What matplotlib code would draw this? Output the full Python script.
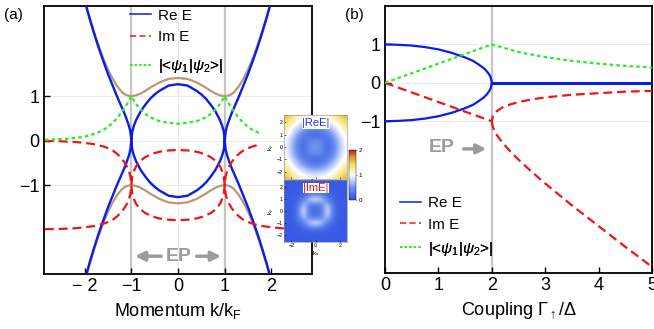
import numpy as np
import matplotlib
matplotlib.use('Agg')
import matplotlib.pyplot as plt
from matplotlib.colors import LinearSegmentedColormap

plt.rcParams['font.family'] = ['Liberation Sans', 'DejaVu Sans']
plt.rcParams['mathtext.fontset'] = 'custom'
plt.rcParams['mathtext.rm'] = 'Liberation Sans'
plt.rcParams['mathtext.it'] = 'Liberation Sans:italic'

# ---- panel (a): energies vs momentum ----
k_a = [-2.0, -1.9, -1.8, -1.7, -1.6, -1.5, -1.4, -1.3, -1.2, -1.15, -1.1, -1.05, -1.02, -1.0,
       -0.98, -0.95, -0.9, -0.85, -0.8, -0.7, -0.6, -0.5, -0.4, -0.2, 0.0,
       0.2, 0.4, 0.5, 0.6, 0.7, 0.8, 0.85, 0.9, 0.95, 0.98, 1.0,
       1.02, 1.05, 1.1, 1.15, 1.2, 1.3, 1.4, 1.5, 1.6, 1.7, 1.8, 1.9, 2.0]
re_up = [3.15, 2.77, 2.42, 2.09, 1.79, 1.50, 1.24, 0.98, 0.74, 0.62, 0.48, 0.33, 0.20, 0.00,
         0.20, 0.32, 0.46, 0.56, 0.66, 0.81, 0.94, 1.04, 1.12, 1.24, 1.27,
         1.24, 1.12, 1.04, 0.94, 0.81, 0.66, 0.56, 0.46, 0.32, 0.20, 0.00,
         0.20, 0.33, 0.48, 0.62, 0.74, 0.98, 1.24, 1.50, 1.79, 2.09, 2.42, 2.77, 3.15]
re_lo = [-3.15, -2.77, -2.42, -2.09, -1.79, -1.50, -1.24, -0.98, -0.74, -0.62, -0.48, -0.33, -0.20, 0.00,
         -0.20, -0.32, -0.46, -0.56, -0.66, -0.81, -0.94, -1.04, -1.12, -1.24, -1.27,
         -1.24, -1.12, -1.04, -0.94, -0.81, -0.66, -0.56, -0.46, -0.32, -0.20, 0.00,
         -0.20, -0.33, -0.48, -0.62, -0.74, -0.98, -1.24, -1.50, -1.79, -2.09, -2.42, -2.77, -3.15]
herm_up = [3.16, 2.80, 2.45, 2.14, 1.85, 1.60, 1.39, 1.22, 1.09, 1.05, 1.02, 1.01, 1.00, 1.00,
           1.00, 1.01, 1.02, 1.04, 1.06, 1.12, 1.19, 1.25, 1.31, 1.39, 1.41,
           1.39, 1.31, 1.25, 1.19, 1.12, 1.06, 1.04, 1.02, 1.01, 1.00, 1.00,
           1.00, 1.01, 1.02, 1.05, 1.09, 1.22, 1.39, 1.60, 1.85, 2.14, 2.45, 2.80, 3.16]
herm_lo = [-3.16, -2.80, -2.45, -2.14, -1.85, -1.60, -1.39, -1.22, -1.09, -1.05, -1.02, -1.01, -1.00, -1.00,
           -1.00, -1.01, -1.02, -1.04, -1.06, -1.12, -1.19, -1.25, -1.31, -1.39, -1.41,
           -1.39, -1.31, -1.25, -1.19, -1.12, -1.06, -1.04, -1.02, -1.01, -1.00, -1.00,
           -1.00, -1.01, -1.02, -1.05, -1.09, -1.22, -1.39, -1.60, -1.85, -2.14, -2.45, -2.80, -3.16]

k_im_up = [-2.85, -2.6, -2.4, -2.2, -2.0, -1.8, -1.6, -1.5, -1.4, -1.3, -1.2, -1.15, -1.1, -1.05, -1.02, -1.0,
           -0.98, -0.95, -0.9, -0.85, -0.8, -0.7, -0.6, -0.5, -0.4, -0.2, 0.0,
           0.2, 0.4, 0.5, 0.6, 0.7, 0.8, 0.85, 0.9, 0.95, 0.98, 1.0,
           1.02, 1.05, 1.1, 1.15, 1.2, 1.3, 1.4, 1.5, 1.6, 1.7]
im_up = [-0.01, -0.01, -0.02, -0.03, -0.05, -0.08, -0.13, -0.17, -0.22, -0.30, -0.41, -0.48, -0.57, -0.69, -0.80, -1.00,
         -0.80, -0.70, -0.58, -0.51, -0.45, -0.37, -0.32, -0.28, -0.25, -0.22, -0.21,
         -0.22, -0.25, -0.28, -0.32, -0.37, -0.45, -0.51, -0.58, -0.70, -0.80, -1.00,
         -0.80, -0.69, -0.57, -0.48, -0.41, -0.30, -0.22, -0.17, -0.13, -0.10]
k_im_lo = [-2.85, -2.6, -2.4, -2.2, -2.0, -1.8, -1.6, -1.5, -1.4, -1.3, -1.2, -1.15, -1.1, -1.05, -1.02, -1.0,
           -0.98, -0.95, -0.9, -0.85, -0.8, -0.7, -0.6, -0.5, -0.4, -0.2, 0.0,
           0.2, 0.4, 0.5, 0.6, 0.7, 0.8, 0.85, 0.9, 0.95, 0.98, 1.0,
           1.02, 1.05, 1.1, 1.15, 1.2, 1.3, 1.4, 1.5, 1.6, 1.7, 1.8, 2.0, 2.2, 2.4, 2.6, 2.75]
im_lo = [-1.99, -1.99, -1.98, -1.97, -1.95, -1.92, -1.87, -1.83, -1.78, -1.70, -1.59, -1.52, -1.43, -1.31, -1.20, -1.00,
         -1.20, -1.30, -1.42, -1.49, -1.55, -1.63, -1.68, -1.72, -1.75, -1.78, -1.79,
         -1.78, -1.75, -1.72, -1.68, -1.63, -1.55, -1.49, -1.42, -1.30, -1.20, -1.00,
         -1.20, -1.31, -1.43, -1.52, -1.59, -1.70, -1.78, -1.83, -1.87, -1.90, -1.92, -1.95, -1.97, -1.98, -1.99, -1.99]

k_ov = [-2.85, -2.6, -2.4, -2.2, -2.0, -1.8, -1.7, -1.6, -1.5, -1.4, -1.3, -1.2, -1.15, -1.1, -1.05, -1.02, -1.0,
        -0.98, -0.95, -0.9, -0.85, -0.8, -0.7, -0.6, -0.5, -0.4, -0.2, 0.0,
        0.2, 0.4, 0.5, 0.6, 0.7, 0.8, 0.85, 0.9, 0.95, 0.98, 1.0,
        1.02, 1.05, 1.1, 1.15, 1.2, 1.3, 1.4, 1.5, 1.6, 1.7, 1.78]
ov_a = [0.02, 0.03, 0.04, 0.06, 0.09, 0.15, 0.19, 0.24, 0.31, 0.40, 0.51, 0.65, 0.73, 0.81, 0.90, 0.96, 1.00,
        0.96, 0.91, 0.83, 0.76, 0.70, 0.60, 0.53, 0.48, 0.44, 0.40, 0.38,
        0.40, 0.44, 0.48, 0.53, 0.60, 0.70, 0.76, 0.83, 0.91, 0.96, 1.00,
        0.96, 0.90, 0.81, 0.73, 0.65, 0.51, 0.40, 0.31, 0.24, 0.19, 0.16]

ep_k = [-1, 1]
xticks_a = [-2, -1, 0, 1, 2]
xticklabels_a = ['\u2212 2', '\u22121', '0', '1', '2']
yticks = [-1, 0, 1]
yticklabels = ['\u22121', '0', '1']

# ---- panel (b): energies vs coupling ----
g_re = [0.0, 0.25, 0.5, 0.75, 1.0, 1.25, 1.5, 1.65, 1.75, 1.85, 1.9, 1.95, 1.98, 2.0]
re_b_up = [1.0, 0.99, 0.97, 0.93, 0.87, 0.78, 0.66, 0.57, 0.48, 0.38, 0.31, 0.22, 0.14, 0.0]
re_b_lo = [-1.0, -0.99, -0.97, -0.93, -0.87, -0.78, -0.66, -0.57, -0.48, -0.38, -0.31, -0.22, -0.14, 0.0]
g_zero = [2.0, 5.0]
re_b_zero = [0.0, 0.0]
g_im_a = [0.0, 0.5, 1.0, 1.5, 2.0, 2.02, 2.05, 2.1, 2.2, 2.35, 2.5, 2.75, 3.0, 3.5, 4.0, 4.5, 5.0]
im_b_up = [0.0, -0.25, -0.5, -0.75, -1.0, -0.87, -0.80, -0.73, -0.64, -0.56, -0.50, -0.43, -0.38, -0.31, -0.27, -0.23, -0.21]
g_im_b = [2.0, 2.02, 2.05, 2.1, 2.2, 2.35, 2.5, 2.75, 3.0, 3.5, 4.0, 4.5, 5.0]
im_b_lo = [-1.0, -1.15, -1.25, -1.37, -1.56, -1.79, -2.0, -2.32, -2.62, -3.19, -3.73, -4.27, -4.79]
g_ov = [0.0, 1.0, 2.0, 2.5, 3.0, 3.5, 4.0, 4.5, 5.0]
ov_b = [0.0, 0.5, 1.0, 0.8, 0.67, 0.57, 0.5, 0.44, 0.4]
ep_g = [2]

# ---- inset maps, |Re E| and |Im E| on an 11x11 grid (kx, ky = -2.5..2.5) ----
re_map = [
    [1.65, 1.42, 1.25, 1.10, 1.03, 1.00, 1.03, 1.10, 1.25, 1.42, 1.65],
    [1.42, 1.20, 1.00, 0.87, 0.75, 0.72, 0.75, 0.87, 1.00, 1.20, 1.42],
    [1.25, 1.00, 0.80, 0.60, 0.45, 0.40, 0.45, 0.60, 0.80, 1.00, 1.25],
    [1.10, 0.87, 0.60, 0.35, 0.20, 0.15, 0.20, 0.35, 0.60, 0.87, 1.10],
    [1.03, 0.75, 0.45, 0.20, 0.40, 0.48, 0.40, 0.20, 0.45, 0.75, 1.03],
    [1.00, 0.72, 0.40, 0.15, 0.48, 0.55, 0.48, 0.15, 0.40, 0.72, 1.00],
    [1.03, 0.75, 0.45, 0.20, 0.40, 0.48, 0.40, 0.20, 0.45, 0.75, 1.03],
    [1.10, 0.87, 0.60, 0.35, 0.20, 0.15, 0.20, 0.35, 0.60, 0.87, 1.10],
    [1.25, 1.00, 0.80, 0.60, 0.45, 0.40, 0.45, 0.60, 0.80, 1.00, 1.25],
    [1.42, 1.20, 1.00, 0.87, 0.75, 0.72, 0.75, 0.87, 1.00, 1.20, 1.42],
    [1.65, 1.42, 1.25, 1.10, 1.03, 1.00, 1.03, 1.10, 1.25, 1.42, 1.65],
]
im_map = [
    [0.10, 0.10, 0.10, 0.10, 0.10, 0.10, 0.10, 0.10, 0.10, 0.10, 0.10],
    [0.10, 0.10, 0.10, 0.10, 0.10, 0.10, 0.10, 0.10, 0.10, 0.10, 0.10],
    [0.10, 0.10, 0.10, 0.15, 0.20, 0.25, 0.20, 0.15, 0.10, 0.10, 0.10],
    [0.10, 0.10, 0.15, 0.30, 0.85, 1.00, 0.85, 0.30, 0.15, 0.10, 0.10],
    [0.10, 0.10, 0.20, 0.85, 0.35, 0.25, 0.35, 0.85, 0.20, 0.10, 0.10],
    [0.10, 0.10, 0.25, 1.00, 0.25, 0.20, 0.25, 1.00, 0.25, 0.10, 0.10],
    [0.10, 0.10, 0.20, 0.85, 0.35, 0.25, 0.35, 0.85, 0.20, 0.10, 0.10],
    [0.10, 0.10, 0.15, 0.30, 0.85, 1.00, 0.85, 0.30, 0.15, 0.10, 0.10],
    [0.10, 0.10, 0.10, 0.15, 0.20, 0.25, 0.20, 0.15, 0.10, 0.10, 0.10],
    [0.10, 0.10, 0.10, 0.10, 0.10, 0.10, 0.10, 0.10, 0.10, 0.10, 0.10],
    [0.10, 0.10, 0.10, 0.10, 0.10, 0.10, 0.10, 0.10, 0.10, 0.10, 0.10],
]

c_blue = '#0a1ee6'
c_red = '#f01414'
c_green = '#22ee22'
c_brown = '#b89878'
c_ep = '#c6c6c6'
c_grid = '#ebebeb'
c_arrow = '#9c9c9c'
ov_label = r'|<$\psi_1$|$\psi_2$>|'

fig = plt.figure(figsize=(6.54, 3.29), dpi=100)
axa = fig.add_axes([0.0673, 0.1672, 0.4098, 0.8146])
axb = fig.add_axes([0.5887, 0.1702, 0.4083, 0.8116])


def style(ax):
    for s in ax.spines.values():
        s.set_linewidth(1.3)
    ax.tick_params(direction='in', length=4, width=1, labelsize=13, pad=3,
                   top=False, right=False)
    ax.set_yticks(yticks)
    ax.set_yticklabels(yticklabels)
    for y in yticks:
        ax.axhline(y, color=c_grid, lw=0.7, zorder=0)


def legend(ax, handles, anchor):
    leg = ax.legend(handles=handles, loc='upper left', bbox_to_anchor=anchor, frameon=False,
                    fontsize=11, handlelength=1.4, handletextpad=0.45, labelspacing=0.5,
                    borderpad=0, borderaxespad=0)
    for h in leg.get_lines():
        h.set_linewidth(1.1)
    ax.add_artist(leg)
    return leg


# panel (a)
style(axa)
axa.axvline(0, color=c_grid, lw=0.7, zorder=0)
for k in ep_k:
    axa.axvline(k, color=c_ep, lw=1.6, zorder=1)
axa.plot(k_a, herm_up, color=c_brown, lw=1.6, zorder=2)
axa.plot(k_a, herm_lo, color=c_brown, lw=1.6, zorder=2)
la1, = axa.plot(k_a, re_up, color=c_blue, lw=1.7, zorder=3, label='Re E')
axa.plot(k_a, re_lo, color=c_blue, lw=1.7, zorder=3)
la2, = axa.plot(k_im_up, im_up, color=c_red, lw=1.6, ls=(0, (4, 2.2)), zorder=4, label='Im E')
axa.plot(k_im_lo, im_lo, color=c_red, lw=1.6, ls=(0, (4, 2.2)), zorder=4)
la3, = axa.plot(k_ov, ov_a, color=c_green, lw=1.6, ls=(0, (1.6, 1.4)), zorder=4, label=ov_label)
axa.set_xlim(-2.87, 2.87)
axa.set_ylim(-3.0, 3.03)
axa.set_xticks(xticks_a)
axa.set_xticklabels(xticklabels_a)
axa.set_xlabel(r'Momentum k/k$_\mathrm{F}$', fontsize=13, labelpad=4)
legend(axa, [la1, la2], (0.32, 0.99))
legend(axa, [la3], (0.32, 0.808))
axa.annotate('', xy=(-0.98, -2.6), xytext=(-0.3, -2.6),
             arrowprops=dict(arrowstyle='-|>', color=c_arrow, lw=2.5, mutation_scale=14))
axa.annotate('', xy=(0.98, -2.6), xytext=(0.34, -2.6),
             arrowprops=dict(arrowstyle='-|>', color=c_arrow, lw=2.5, mutation_scale=14))
axa.text(0.02, -2.6, 'EP', color=c_arrow, fontsize=14, fontweight='bold', ha='center', va='center')

# panel (b)
style(axb)
for g in ep_g:
    axb.axvline(g, color=c_ep, lw=1.6, zorder=1)
lb1, = axb.plot(g_re, re_b_up, color=c_blue, lw=1.6, zorder=3, label='Re E')
axb.plot(g_re, re_b_lo, color=c_blue, lw=1.6, zorder=3)
axb.plot(g_zero, re_b_zero, color=c_blue, lw=2.2, zorder=3)
lb2, = axb.plot(g_im_a, im_b_up, color=c_red, lw=1.6, ls=(0, (4, 2.2)), zorder=4, label='Im E')
axb.plot(g_im_b, im_b_lo, color=c_red, lw=1.6, ls=(0, (4, 2.2)), zorder=4)
lb3, = axb.plot(g_ov, ov_b, color=c_green, lw=1.6, ls=(0, (1.6, 1.4)), zorder=4, label=ov_label)
axb.set_xlim(0, 5)
axb.set_ylim(-4.95, 2.0)
axb.set_xticks([0, 1, 2, 3, 4, 5])
axb.set_xlabel('Coupling \u0393$_{\\uparrow}$/\u0394', fontsize=13, labelpad=4)
legend(axb, [lb1, lb2], (0.055, 0.288))
legend(axb, [lb3], (0.055, 0.125))
axb.annotate('', xy=(1.95, -1.72), xytext=(1.42, -1.72),
             arrowprops=dict(arrowstyle='-|>', color=c_arrow, lw=2.5, mutation_scale=14))
axb.text(1.07, -1.68, 'EP', color=c_arrow, fontsize=14, fontweight='bold', ha='center', va='center')

fig.text(0.006, 0.955, '(a)', fontsize=11, va='center')
fig.text(0.528, 0.955, '(b)', fontsize=11, va='center')

# inset maps
cmap = LinearSegmentedColormap.from_list('tmap', [
    (0.0, '#2c4ee2'), (0.25, '#6f93ef'), (0.5, '#ffffff'),
    (0.72, '#f3dc5c'), (0.86, '#e68f32'), (1.0, '#b5242a')])
ins_re = fig.add_axes([0.4343, 0.456, 0.0963, 0.1945])
ins_im = fig.add_axes([0.4343, 0.2644, 0.0963, 0.1884])
for ax, data, lab, col in [(ins_re, re_map, '|ReE|', '#2233ee'), (ins_im, im_map, '|ImE|', '#ee1111')]:
    img = ax.imshow(data, extent=[-2.75, 2.75, -2.75, 2.75], origin='lower', cmap=cmap,
                    vmin=0, vmax=2, interpolation='bicubic', aspect='auto')
    ax.set_xlim(-2.6, 2.6)
    ax.set_ylim(-2.6, 2.6)
    ax.set_yticks([-2, -1, 0, 1, 2])
    ax.set_yticklabels(['\u22122', '\u22121', '0', '1', '2'])
    ax.set_xticks([-2, 0, 2])
    ax.tick_params(labelsize=3.8, length=1.2, width=0.4, pad=1, direction='in')
    ax.set_ylabel('k$_y$', fontsize=4.5, labelpad=0)
    for s in ax.spines.values():
        s.set_linewidth(0.4)
        s.set_color('#888888')
    ax.text(0.5, 0.95, lab, transform=ax.transAxes, color=col, fontsize=8, ha='center', va='top',
            bbox=dict(facecolor='white', edgecolor='none', pad=0.2))
ins_re.set_xticklabels([])
ins_im.set_xticklabels(['\u22122', '0', '2'])
ins_im.set_xlabel('k$_x$', fontsize=4.5, labelpad=0.5)
cax = fig.add_axes([0.5336, 0.392, 0.0107, 0.152])
cb = fig.colorbar(img, cax=cax, ticks=[0, 1, 2])
cb.outline.set_linewidth(0.3)
cax.tick_params(labelsize=4.5, length=1, width=0.4, pad=1)

fig.savefig('out.png', dpi=100)
